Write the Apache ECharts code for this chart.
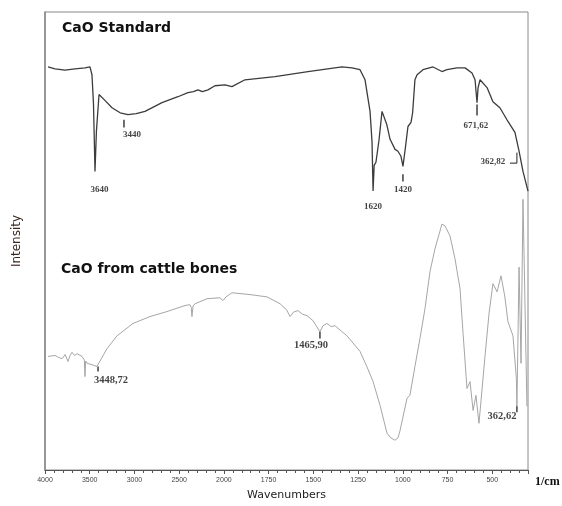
<!DOCTYPE html>
<html>
<head>
<meta charset="utf-8">
<script src="https://cdn.jsdelivr.net/npm/echarts@6/dist/echarts.min.js"></script>
<style>html,body{margin:0;padding:0;background:#fff}#c{width:562px;height:506px}</style>
</head>
<body>
<div id="c"></div>
<script>
// ---- data (wavenumber [1/cm], intensity [arbitrary]) ----
const stdSpectrum = [[3966,88.0],[3888,87.6],[3776,87.3],[3665,87.6],[3553,87.8],[3497,88.0],[3475,86.3],[3458,80.0],[3441,65.2],[3425,74.0],[3396,82.0],[3330,80.7],[3251,79.1],[3160,78.0],[3072,77.6],[2980,77.8],[2882,78.3],[2692,80.2],[2514,81.5],[2402,82.4],[2340,82.6],[2290,83.0],[2240,82.6],[2178,83.0],[2100,83.9],[1994,84.1],[1955,83.7],[1882,85.2],[1714,85.9],[1530,87.0],[1340,88.0],[1284,87.8],[1239,87.4],[1211,85.2],[1183,78.3],[1172,71.7],[1166,60.9],[1160,66.5],[1150,67.2],[1133,72.0],[1116,78.3],[1111,78.3],[1090,75.5],[1071,72.2],[1043,70.0],[1027,69.6],[1010,68.5],[999,66.3],[985,70.5],[971,75.0],[954,75.9],[945,78.0],[932,85.2],[920,86.3],[887,87.4],[831,88.0],[781,87.0],[753,87.4],[697,87.8],[652,87.8],[613,86.7],[596,85.2],[585,80.2],[579,83.5],[568,85.2],[529,83.5],[496,80.4],[457,79.1],[412,76.1],[373,73.7],[350,69.6],[328,65.2],[300,60.9]];
const boneSpectrum = [[3966,24.8],[3888,25.0],[3850,24.6],[3810,24.3],[3775,25.2],[3743,23.7],[3720,25.0],[3698,25.7],[3670,25.0],[3642,25.4],[3586,24.8],[3560,24.0],[3553,20.4],[3545,23.8],[3530,23.3],[3475,23.0],[3419,22.6],[3307,26.5],[3195,29.3],[3016,32.0],[2826,33.5],[2636,34.6],[2435,35.9],[2379,36.1],[2365,35.5],[2357,33.5],[2345,35.8],[2323,36.3],[2189,37.4],[2044,37.6],[2010,37.0],[1988,37.8],[1955,38.7],[1854,38.3],[1759,37.8],[1686,36.3],[1650,35.0],[1630,33.5],[1610,34.5],[1586,34.8],[1560,34.0],[1535,33.7],[1502,32.6],[1463,30.2],[1446,31.5],[1424,32.0],[1400,31.3],[1379,31.5],[1312,29.3],[1239,25.9],[1200,22.5],[1166,19.3],[1127,14.1],[1088,8.0],[1066,7.0],[1044,6.5],[1027,7.0],[1016,8.5],[976,15.7],[960,16.3],[932,22.6],[904,28.7],[876,35.2],[848,43.3],[820,48.3],[781,53.7],[764,53.3],[736,51.1],[708,46.1],[680,39.6],[663,29.8],[641,17.8],[624,19.3],[607,13.0],[591,16.3],[574,10.2],[540,25.0],[518,34.1],[496,40.7],[473,38.9],[451,42.4],[430,38.0],[412,32.4],[384,29.3],[365,20.0],[362,13.9],[350,44.3],[339,23.3],[328,59.1],[317,59.1],[306,13.9]];
// annotations: text, wavenumber, y of label
const annoText = ['3640','3440','1620','1420','671,62','362,82','3448,72','1465,90','362,62'];
const annoWn   = [3390, 3028, 1166, 999, 591, 496, 3262, 1513, 445];
const annoY    = [61.3, 73.3, 57.6, 61.1, 75.2, 67.4, 19.6, 27.2, 11.7];
const annoSize = [9, 9, 9, 9, 9, 9, 10.5, 10.5, 10.5];
// marker ticks: wavenumber, y from, y to
const markTicks = [[3117,76.5,74.8],[999,64.6,63.0],[585,79.8,77.4],[3407,22.6,21.5],[1463,30.2,28.7],[362,13.9,12.6]];
const bracket = [[401,67.0],[362,67.0],[362,69.3]];
const tickWn = [4000,3500,3000,2500,2000,1750,1500,1250,1000,750,500];

// piecewise wavenumber scale (2x expansion below 2000 1/cm)
function tOf(w){ return w >= 2000 ? (4000 - w) / 2 : 1000 + (2000 - w); }
function wOf(t){ return t <= 1000 ? 4000 - 2 * t : 3000 - t; }

const chart = echarts.init(document.getElementById('c'), null, {renderer:'canvas'});
const conv = arr => arr.map(p => [tOf(p[0]), p[1]]);

chart.setOption({
  animation: false,
  backgroundColor: '#fff',
  title: [
    {text:'CaO Standard', left:57, top:16, textStyle:{fontFamily:'DejaVu Sans', fontWeight:'bold', fontSize:14, color:'#111'}},
    {text:'CaO from cattle bones', left:56, top:257, textStyle:{fontFamily:'DejaVu Sans', fontWeight:'bold', fontSize:14, color:'#111'}}
  ],
  grid: {left:45, right:34, top:12, bottom:34, show:true, borderColor:'#8a8a8a', borderWidth:1},
  xAxis: {
    type:'value', min:0, max:2700, interval:250,
    name:'Wavenumbers', nameLocation:'middle', nameGap:20,
    nameTextStyle:{fontFamily:'DejaVu Sans', fontSize:11, color:'#222'},
    axisLine:{show:true, onZero:false, lineStyle:{color:'#555', width:1}},
    axisTick:{show:true, length:4, lineStyle:{color:'#555'}},
    minorTick:{show:true, splitNumber:5, length:3, lineStyle:{color:'#555'}},
    axisLabel:{fontFamily:'Liberation Sans', fontSize:7, color:'#444', margin:7, showMaxLabel:false,
      formatter: v => String(wOf(v))},
    splitLine:{show:false}
  },
  yAxis: {
    type:'value', min:0, max:100,
    name:'Intensity', nameLocation:'middle', nameGap:22, nameRotate:90,
    nameTextStyle:{fontFamily:'DejaVu Sans', fontSize:12, color:'#3a2a22'},
    axisLine:{show:true, lineStyle:{color:'#888', width:1.5}},
    axisTick:{show:false}, axisLabel:{show:false}, splitLine:{show:false}
  },
  graphic: [
    {type:'text', left:535, top:476, style:{text:'1/cm', font:'bold 12px "Liberation Serif"', fill:'#111'}}
  ],
  series: [
    {type:'line', name:'CaO Standard', data:conv(stdSpectrum), showSymbol:false, symbol:'none',
      lineStyle:{color:'#3c3c3c', width:1.3}, z:3},
    {type:'line', name:'CaO from cattle bones', data:conv(boneSpectrum), showSymbol:false, symbol:'none',
      lineStyle:{color:'#a6a6a6', width:1}, z:2},
    {type:'custom', data: markTicks.map(m => [tOf(m[0]), m[1], m[2]]),
      encode:{x:0, y:[1,2]},
      renderItem: (params, api) => {
        const a = api.coord([api.value(0), api.value(1)]);
        const b = api.coord([api.value(0), api.value(2)]);
        return {type:'line', shape:{x1:a[0], y1:a[1], x2:b[0], y2:b[1]}, style:{stroke:'#222', lineWidth:1.3}};
      }, z:4},
    {type:'line', data:conv(bracket), symbol:'none', lineStyle:{color:'#222', width:1}, z:4},
    {type:'scatter', symbolSize:0, z:5,
      data: annoText.map((s, i) => ({value:[tOf(annoWn[i]), annoY[i]],
        label:{show:true, position:'inside', formatter:s, fontFamily:'Liberation Serif', fontWeight:'bold',
          fontSize:annoSize[i], color:'#111'}}))}
  ]
});
</script>
</body>
</html>
